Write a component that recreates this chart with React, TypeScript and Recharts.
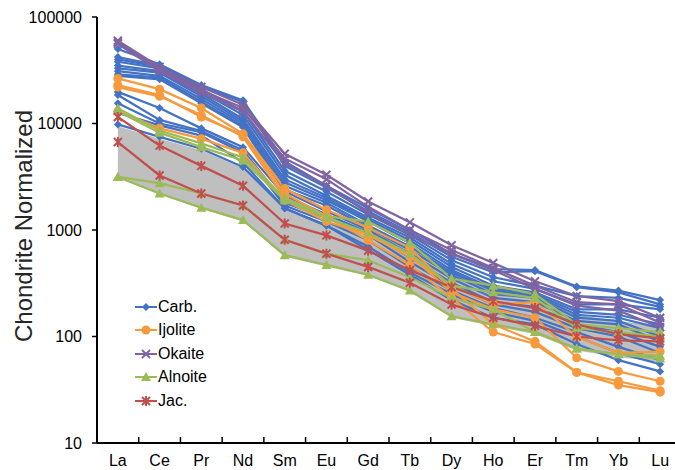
import { ComposedChart, Line, Area, XAxis, YAxis, Legend } from 'recharts';

const elements = ['La', 'Ce', 'Pr', 'Nd', 'Sm', 'Eu', 'Gd', 'Tb', 'Dy', 'Ho', 'Er', 'Tm', 'Yb', 'Lu'];
const yTicks = [10, 100, 1000, 10000, 100000];

// shaded field (low / high edge)
const greyLow = [3100, 2150, 1580, 1200, 560, 455, 370, 262, 150, 125, 105, 74, 64, 58];
const greyHigh = [9400, 7200, 5600, 3800, 1600, 1150, 950, 700, 420, 300, 260, 160, 140, 126];

const carb = [
  [50000, 36000, 23000, 16500, 4400, 2600, 1600, 1000, 600, 430, 420, 295, 270, 220],
  [42000, 35000, 22000, 16000, 4000, 2500, 1500, 950, 560, 400, 410, 290, 260, 200],
  [40000, 34000, 21000, 13000, 3600, 2300, 1400, 900, 520, 360, 300, 240, 230, 190],
  [38000, 33000, 20000, 12000, 3300, 2100, 1300, 850, 480, 330, 280, 200, 200, 180],
  [35000, 31000, 19000, 11000, 3000, 2000, 1250, 800, 450, 300, 260, 180, 180, 150],
  [33000, 30000, 18000, 10500, 2800, 1900, 1200, 750, 420, 280, 250, 170, 160, 130],
  [31000, 28000, 17000, 10000, 2600, 1800, 1100, 700, 400, 270, 240, 160, 150, 120],
  [29000, 27000, 16000, 9500, 2400, 1700, 1050, 650, 380, 250, 230, 150, 140, 100],
  [28000, 26000, 15500, 9200, 2300, 1500, 1000, 600, 350, 230, 210, 140, 130, 90],
  [19800, 14000, 9000, 6000, 2100, 1400, 950, 550, 320, 210, 190, 130, 110, 80],
  [18500, 10800, 8500, 5600, 1800, 1300, 900, 500, 300, 200, 170, 120, 100, 70],
  [15500, 10000, 8300, 5300, 1700, 1200, 800, 450, 270, 185, 150, 110, 80, 60],
  [12600, 9600, 7700, 4300, 1600, 1100, 700, 400, 250, 170, 140, 100, 70, 55],
  [9800, 7500, 5800, 3900, 1600, 1100, 650, 380, 220, 150, 130, 85, 60, 47],
];

const ijolite = [
  [26500, 21000, 14000, 8000, 2450, 1550, 1050, 680, 280, 130, 90, 46, 38, 31],
  [23000, 18500, 11500, 7800, 2200, 1350, 800, 470, 230, 110, 85, 46, 35, 30],
  [22000, 18000, 12000, 7500, 2000, 1300, 900, 560, 300, 200, 210, 100, 70, 72],
  [13000, 9000, 7200, 5300, 1900, 1200, 900, 580, 260, 180, 150, 63, 47, 38],
];

const okaite = [
  [60000, 34000, 22000, 15000, 5200, 3300, 1850, 1180, 720, 490, 330, 240, 215, 150],
  [58000, 32000, 20500, 14000, 4700, 3000, 1650, 1000, 650, 440, 300, 210, 200, 135],
  [56000, 31000, 19500, 13000, 4200, 2600, 1450, 900, 600, 420, 280, 195, 175, 122],
];

const alnoite = [
  [13900, 8600, 6500, 4800, 2000, 1350, 1200, 760, 350, 300, 250, 130, 120, 110],
  [13000, 8200, 6000, 4500, 1900, 1300, 940, 600, 300, 260, 230, 120, 110, 100],
  [3150, 2750, 2200, 1700, 810, 600, 520, 360, 230, 180, 110, 77, 68, 66],
  [3150, 2200, 1620, 1240, 580, 470, 380, 270, 155, 130, 110, 77, 68, 62],
];

const jac = [
  [11500, 6200, 4000, 2600, 1150, 890, 640, 420, 290, 215, 185, 130, 105, 96],
  [6700, 3250, 2200, 1700, 810, 600, 450, 320, 200, 150, 126, 100, 92, 90],
];

const BLUE = '#4472C4';
const ORANGE = '#F79A3E';
const PURPLE = '#8064A2';
const GREEN = '#9BBB59';
const RED = '#C0504D';
const FONT = '"Liberation Sans", Arial, sans-serif';

const groups = [
  { name: 'Carb.', prefix: 'c', lines: carb, color: BLUE, marker: 'diamond' },
  { name: 'Ijolite', prefix: 'i', lines: ijolite, color: ORANGE, marker: 'circle' },
  { name: 'Okaite', prefix: 'o', lines: okaite, color: PURPLE, marker: 'cross' },
  { name: 'Alnoite', prefix: 'a', lines: alnoite, color: GREEN, marker: 'triangle' },
  { name: 'Jac.', prefix: 'j', lines: jac, color: RED, marker: 'star' },
];

const rows = elements.map((el, i) => {
  const row: any = { idx: i, el, grey: [greyLow[i], greyHigh[i]] };
  groups.forEach((g) => g.lines.forEach((s, k) => (row[g.prefix + k] = s[i])));
  return row;
});

function marker(kind: string, cx: number, cy: number, color: string, key?: string) {
  if (kind === 'diamond')
    return <path key={key} d={`M${cx},${cy - 4}L${cx + 4},${cy}L${cx},${cy + 4}L${cx - 4},${cy}Z`} fill={color} />;
  if (kind === 'circle') return <circle key={key} cx={cx} cy={cy} r={4.5} fill={color} />;
  if (kind === 'triangle')
    return <path key={key} d={`M${cx},${cy - 5}L${cx + 5},${cy + 4}L${cx - 5},${cy + 4}Z`} fill={color} />;
  if (kind === 'cross')
    return (
      <path key={key} d={`M${cx - 4},${cy - 4}L${cx + 4},${cy + 4}M${cx - 4},${cy + 4}L${cx + 4},${cy - 4}`} stroke={color} strokeWidth={2} />
    );
  return (
    <path
      key={key}
      d={`M${cx - 4},${cy - 4}L${cx + 4},${cy + 4}M${cx - 4},${cy + 4}L${cx + 4},${cy - 4}M${cx},${cy - 5}L${cx},${cy + 5}`}
      stroke={color}
      strokeWidth={2}
    />
  );
}

const makeDot = (kind: string, color: string) => (p: any) => {
  if (p.cx == null || p.cy == null) return <g key={`${p.dataKey}-${p.index}`} />;
  return marker(kind, p.cx, p.cy, color, `${p.dataKey}-${p.index}`);
};

const renderLegend = () => (
  <div style={{ fontFamily: FONT, fontSize: 16, color: '#000' }}>
    {groups.map((g) => (
      <div key={g.name} style={{ display: 'flex', alignItems: 'center', height: 23.5 }}>
        <svg width={22} height={12} style={{ marginRight: 1 }}>
          <line x1={0} y1={6} x2={22} y2={6} stroke={g.color} strokeWidth={2} />
          {marker(g.marker, 11, 6, g.color)}
        </svg>
        <span>{g.name}</span>
      </div>
    ))}
  </div>
);

const yTitle = (props: any) => {
  const vb = props.viewBox || { x: 0, y: 17, height: 426 };
  const x = vb.x + 23;
  const y = vb.y + vb.height / 2 - 4;
  return (
    <text x={x} y={y} transform={`rotate(-90 ${x} ${y})`} textAnchor="middle" dominantBaseline="central"
      style={{ fontFamily: FONT, fontSize: 24, fill: '#262626' }}>
      Chondrite Normalized
    </text>
  );
};

export default function App() {
  return (
    <div style={{ position: 'fixed', left: 0, top: 0, width: 675, height: 470, overflow: 'hidden', background: '#fff' }}>
      <ComposedChart width={690} height={470} data={rows} margin={{ top: 17, right: 9, bottom: 0, left: 0 }}>
        <XAxis
          dataKey="idx"
          type="number"
          domain={[-0.5, 13.5]}
          ticks={elements.map((_, i) => i)}
          tickFormatter={(v: number) => elements[v]}
          allowDataOverflow
          axisLine={false}
          tickLine={false}
          tickSize={0}
          tickMargin={12}
          height={27}
          interval={0}
          tick={{ fontFamily: FONT, fontSize: 16, fill: '#000' }}
        />
        <XAxis
          xAxisId="marks"
          dataKey="idx"
          type="number"
          domain={[-0.5, 13.5]}
          ticks={elements.slice(1).map((_, i) => i + 0.5)}
          allowDataOverflow
          orientation="bottom"
          mirror
          height={10}
          tickSize={6}
          interval={0}
          tick={() => <g />}
          axisLine={{ stroke: '#000', strokeWidth: 2 }}
          tickLine={{ stroke: '#000', strokeWidth: 1.5 }}
        />
        <YAxis
          scale="log"
          domain={[10, 100000]}
          ticks={yTicks}
          allowDataOverflow
          width={97}
          tickSize={5}
          tickMargin={10}
          interval={0}
          axisLine={{ stroke: '#000', strokeWidth: 2 }}
          tickLine={{ stroke: '#000', strokeWidth: 1.5 }}
          tick={{ fontFamily: FONT, fontSize: 16, fill: '#000' }}
          label={yTitle}
        />
        <Legend
          layout="vertical"
          align="center"
          verticalAlign="middle"
          content={renderLegend}
          wrapperStyle={{ position: 'absolute', left: 135, top: 295, width: 90 }}
        />
        <Area dataKey="grey" type="linear" fill="#BFBFBF" fillOpacity={1} stroke="none" isAnimationActive={false} activeDot={false} />
        {groups.map((g) =>
          g.lines.map((_, k) => (
            <Line
              key={g.prefix + k}
              dataKey={g.prefix + k}
              type="linear"
              stroke={g.color}
              strokeWidth={2.25}
              dot={makeDot(g.marker, g.color)}
              activeDot={false}
              legendType="none"
              isAnimationActive={false}
            />
          ))
        )}
      </ComposedChart>
    </div>
  );
}
